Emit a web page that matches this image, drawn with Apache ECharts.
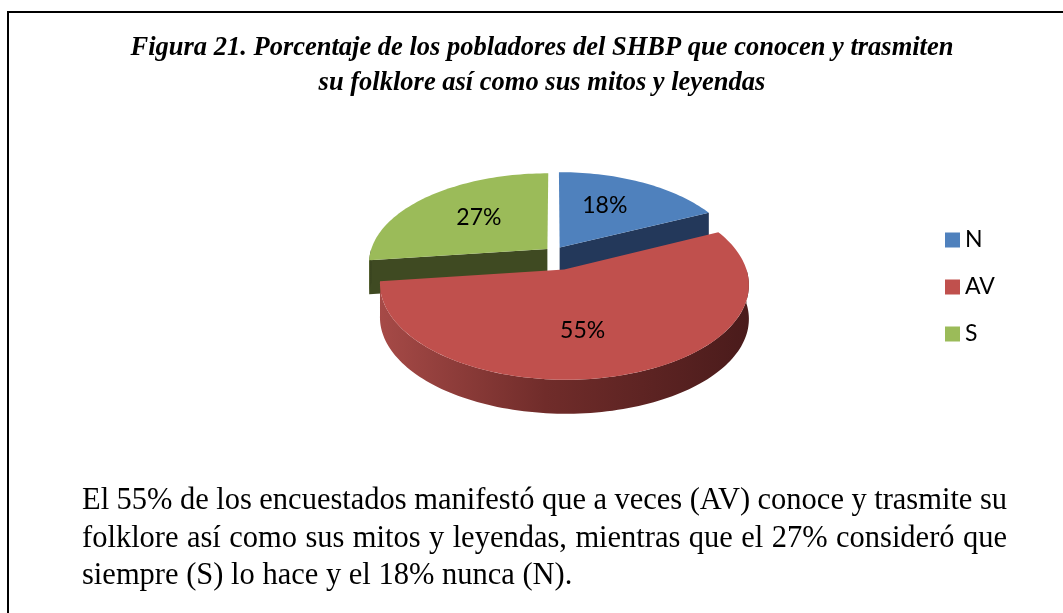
<!DOCTYPE html>
<html lang="es">
<head>
<meta charset="UTF-8">
<title>Figura 21</title>
<style>
    html, body { margin: 0; padding: 0; background: #fff; }
    #grafico { width: 1063px; height: 613px; }
</style>
<script src="https://cdn.jsdelivr.net/npm/echarts@6/dist/echarts.min.js"></script>
</head>
<body>
<div id="grafico"></div>
<script>
    // datos del grafico
    var categorias = ['N', 'AV', 'S'];
    var porcentajes = [18, 55, 27];

    // textos
    var tituloLineas = [
        'Figura 21. Porcentaje de los pobladores del SHBP que conocen y trasmiten',
        'su folklore así como sus mitos y leyendas'
    ];
    var parrafoLineas = [
        'El 55% de los encuestados manifestó que a veces (AV) conoce y trasmite su',
        'folklore así como sus mitos y leyendas, mientras que el 27% consideró que',
        'siempre (S) lo hace y el 18% nunca (N).'
    ];

    // estilo
    var coloresCara = ['#4F81BD', '#C0504D', '#9BBB59'];
    var coloresLado = ['#23385A', '#7A302E', '#3F4A22'];
    // degradado de la pared exterior (izquierda -> derecha)
    var degradadoLado = [
        ['#2E4A75', '#23385A', '#1B2B45'],
        ['#A64A47', '#702C2A', '#4A1B1B'],
        ['#56652E', '#3F4A22', '#313A1A']
    ];
    var separacion = [0.06, 0.2, 0.05];
    var etiquetaAjuste = [[-7, -1], [-16, 2], [6, 1]];

    // geometria de la torta 3D (perspectiva simple)
    var CX = 554, CY = 252, R = 177, RY = 88, K = 0.15, ALTO = 34;

    var total = porcentajes.reduce(function (a, b) { return a + b; }, 0);
    var inicio = [];
    var acum = 0;
    for (var i = 0; i < porcentajes.length; i++) {
        inicio.push(acum);
        acum += porcentajes[i];
    }

    function proyectar(X, Y, h) {
        var w = 1 / (1 - K * Y);
        return [CX + R * X * w, CY + RY * Y * w + h];
    }

    function dibujarPorcion(idx) {
        return function (params, api) {
            var valor = api.value(0);
            var a0 = inicio[idx] / total * Math.PI * 2;
            var a1 = a0 + valor / total * Math.PI * 2;
            var medio = (a0 + a1) / 2;
            var ex = separacion[idx] * Math.sin(medio);
            var ey = -separacion[idx] * Math.cos(medio);

            function punto(a, h, r) {
                if (r == null) r = 1;
                return proyectar(ex + r * Math.sin(a), ey - r * Math.cos(a), h);
            }
            function arco(b0, b1, h) {
                var pasos = Math.max(2, Math.ceil((b1 - b0) / (Math.PI / 120)));
                var pts = [];
                for (var k = 0; k <= pasos; k++) {
                    pts.push(punto(b0 + (b1 - b0) * k / pasos, h));
                }
                return pts;
            }

            var hijos = [];
            var cArriba = proyectar(ex, ey, 0);
            var cAbajo = proyectar(ex, ey, ALTO);

            // paredes radiales visibles
            if (Math.sin(a0) < -0.01) {
                hijos.push({
                    type: 'polygon',
                    shape: { points: [cArriba, punto(a0, 0), punto(a0, ALTO), cAbajo] },
                    style: { fill: coloresLado[idx] }
                });
            }
            if (Math.sin(a1) > 0.01) {
                hijos.push({
                    type: 'polygon',
                    shape: { points: [cArriba, punto(a1, 0), punto(a1, ALTO), cAbajo] },
                    style: { fill: coloresLado[idx] }
                });
            }

            // pared exterior (parte delantera)
            var b0 = Math.max(a0, Math.PI / 2);
            var b1 = Math.min(a1, Math.PI * 1.5);
            if (b1 > b0) {
                var arr = arco(b0, b1, 0);
                var abj = arco(b0, b1, ALTO).reverse();
                var xs = arr.map(function (p) { return p[0]; });
                var xMin = Math.min.apply(null, xs), xMax = Math.max.apply(null, xs);
                var g = degradadoLado[idx];
                hijos.push({
                    type: 'polygon',
                    shape: { points: arr.concat(abj) },
                    style: {
                        fill: new echarts.graphic.LinearGradient(xMin, 0, xMax, 0, [
                            { offset: 0, color: g[0] },
                            { offset: 0.45, color: g[1] },
                            { offset: 1, color: g[2] }
                        ], true)
                    }
                });
            }

            // cara superior
            hijos.push({
                type: 'polygon',
                shape: { points: [cArriba].concat(arco(a0, a1, 0)) },
                style: { fill: coloresCara[idx] }
            });

            // etiqueta
            var pos = punto(medio, 0, 0.6);
            hijos.push({
                type: 'text',
                x: pos[0] + etiquetaAjuste[idx][0],
                y: pos[1] + etiquetaAjuste[idx][1],
                style: {
                    text: valor + '%',
                    fill: '#000',
                    font: '23px Lato',
                    align: 'center',
                    verticalAlign: 'middle'
                }
            });
            return { type: 'group', children: hijos };
        };
    }

    // orden de dibujo: de atras hacia adelante
    var profundidad = porcentajes.map(function (v, k) {
        var medio = (inicio[k] + v / 2) / total * Math.PI * 2;
        return -Math.cos(medio);
    });
    var ordenados = profundidad.slice().sort(function (a, b) { return a - b; });

    var series = categorias.map(function (nombre, k) {
        return {
            type: 'custom',
            name: nombre,
            coordinateSystem: 'none',
            silent: true,
            z: 2 + ordenados.indexOf(profundidad[k]),
            itemStyle: { color: coloresCara[k] },
            data: [porcentajes[k]],
            renderItem: dibujarPorcion(k)
        };
    });

    // medir textos para justificar el parrafo
    var lienzo = document.createElement('canvas').getContext('2d');
    function medir(texto, fuente) {
        lienzo.font = fuente;
        return lienzo.measureText(texto).width;
    }

    var graficos = [];
    graficos.push({
        type: 'rect',
        shape: { x: 8, y: 12, width: 1200, height: 800 },
        style: { fill: 'none', stroke: '#000', lineWidth: 2 }
    });

    var fuenteTitulo = 'italic bold 26.5px "Liberation Serif"';
    var yTitulo = [48, 83];
    tituloLineas.forEach(function (linea, k) {
        graficos.push({
            type: 'text',
            x: 542,
            y: yTitulo[k],
            style: { text: linea, font: fuenteTitulo, fill: '#000', align: 'center', verticalAlign: 'middle' }
        });
    });

    var fuenteParrafo = '30.5px "Liberation Serif"';
    var xIzq = 82, xDer = 1007;
    var yParrafo = [501, 539, 576];
    parrafoLineas.forEach(function (linea, k) {
        var palabras = linea.split(' ');
        var anchos = palabras.map(function (p) { return medir(p, fuenteParrafo); });
        var suma = anchos.reduce(function (a, b) { return a + b; }, 0);
        var justificar = k < parrafoLineas.length - 1;
        var hueco = justificar ? (xDer - xIzq - suma) / (palabras.length - 1) : medir(' ', fuenteParrafo);
        var x = xIzq;
        palabras.forEach(function (p, j) {
            graficos.push({
                type: 'text',
                x: x,
                y: yParrafo[k],
                style: { text: p, font: fuenteParrafo, fill: '#000', align: 'left', verticalAlign: 'middle' }
            });
            x += anchos[j] + hueco;
        });
    });

    var miGrafico = echarts.init(document.getElementById('grafico'));
    miGrafico.setOption({
        backgroundColor: '#fff',
        animation: false,
        legend: {
            orient: 'vertical',
            left: 940,
            top: 223,
            icon: 'rect',
            itemWidth: 15,
            itemHeight: 15,
            itemGap: 23,
            data: categorias,
            selectedMode: false,
            textStyle: { fontFamily: 'Lato', fontSize: 23, color: '#000', lineHeight: 24 }
        },
        graphic: graficos,
        series: series
    });
</script>
</body>
</html>
